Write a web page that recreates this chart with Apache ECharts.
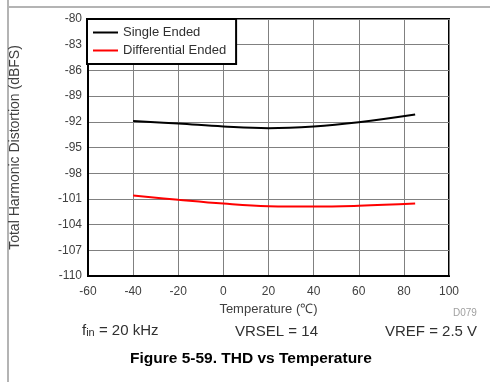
<!DOCTYPE html>
<html>
<head>
<meta charset="utf-8">
<script src="https://cdn.jsdelivr.net/npm/echarts@6/dist/echarts.min.js"></script>
<style>html,body{margin:0;padding:0;background:#fff;}#c{width:490px;height:382px;}</style>
</head>
<body>
<div id="c"></div>
<script>
const temps = [-40, -20, 0, 20, 40, 60, 85];
const singleEnded = [-91.9, -92.2, -92.55, -92.75, -92.55, -92.05, -91.15];
const differentialEnded = [-100.6, -101.1, -101.55, -101.85, -101.9, -101.8, -101.55];
const xTicks = [-60, -40, -20, 0, 20, 40, 60, 80, 100];
const yTicks = [-110, -107, -104, -101, -98, -95, -92, -89, -86, -83, -80];
const seriesNames = ['Single Ended', 'Differential Ended'];

const font = '"Liberation Sans", Arial, sans-serif';
const chart = echarts.init(document.getElementById('c'), null, {renderer: 'canvas'});
chart.setOption({
  animation: false,
  backgroundColor: '#fff',
  grid: {left: 86, right: 41, top: 19, bottom: 106, show: true, borderColor: '#000', borderWidth: 2, containLabel: false},
  xAxis: {
    type: 'value', min: xTicks[0], max: xTicks[xTicks.length - 1], interval: 20,
    name: 'Temperature (℃)', nameLocation: 'middle', nameGap: 27,
    nameTextStyle: {fontFamily: font, fontSize: 13, color: '#404040'},
    axisLine: {show: true, onZero: false, lineStyle: {color: '#000', width: 2}},
    axisTick: {show: false},
    axisLabel: {fontFamily: font, fontSize: 12, color: '#404040', margin: 10},
    splitLine: {show: true, lineStyle: {color: '#808080', width: 1}}
  },
  yAxis: {
    type: 'value', min: yTicks[0], max: yTicks[yTicks.length - 1], interval: 3,
    name: 'Total Harmonic Distortion (dBFS)', nameLocation: 'middle', nameGap: 66,
    nameTextStyle: {fontFamily: font, fontSize: 14, color: '#404040'},
    axisLine: {show: true, onZero: false, lineStyle: {color: '#000', width: 2}},
    axisTick: {show: false},
    axisLabel: {fontFamily: font, fontSize: 12, color: '#404040', margin: 6},
    splitLine: {show: true, lineStyle: {color: '#808080', width: 1}}
  },
  legend: {
    orient: 'vertical', left: 87, top: 19,
    data: seriesNames,
    icon: 'rect', itemWidth: 25, itemHeight: 2, itemGap: 3,
    padding: [6, 10, 6, 6],
    backgroundColor: '#fff', borderColor: '#000', borderWidth: 2, borderRadius: 0,
    textStyle: {fontFamily: font, fontSize: 13, color: '#303030', lineHeight: 15},
    selectedMode: false
  },
  series: [
    {name: seriesNames[0], type: 'line', smooth: 0.4, symbol: 'none', color: '#000',
     lineStyle: {color: '#000', width: 2}, data: temps.map((t, i) => [t, singleEnded[i]])},
    {name: seriesNames[1], type: 'line', smooth: 0.4, symbol: 'none', color: '#ff0000',
     lineStyle: {color: '#ff0000', width: 2}, data: temps.map((t, i) => [t, differentialEnded[i]])}
  ],
  graphic: [
    {type: 'line', shape: {x1: 8, y1: 0, x2: 8, y2: 382}, style: {stroke: '#b4b4b4', lineWidth: 2}},
    {type: 'line', shape: {x1: 8, y1: 7, x2: 490, y2: 7}, style: {stroke: '#b4b4b4', lineWidth: 2}},
    {type: 'text', left: 453, top: 308, style: {text: 'D079', font: '10px ' + font, fill: '#a0a0a0'}},
    {type: 'text', left: 82, top: 323, style: {
      text: '{a|f}{b|in}{a| = 20 kHz}',
      rich: {a: {fontFamily: font, fontSize: 15, fill: '#303030', verticalAlign: 'bottom'},
             b: {fontFamily: font, fontSize: 11, fill: '#303030', padding: [7, 0, 0, 0]}}
    }},
    {type: 'text', left: 235, top: 324, style: {text: 'VRSEL = 14', font: '15px ' + font, fill: '#303030'}},
    {type: 'text', left: 385, top: 324, style: {text: 'VREF = 2.5 V', font: '15px ' + font, fill: '#303030'}},
    {type: 'text', left: 130, top: 351, style: {text: 'Figure 5-59. THD vs Temperature', font: 'bold 15.5px ' + font, fill: '#000'}}
  ]
});
</script>
</body>
</html>
